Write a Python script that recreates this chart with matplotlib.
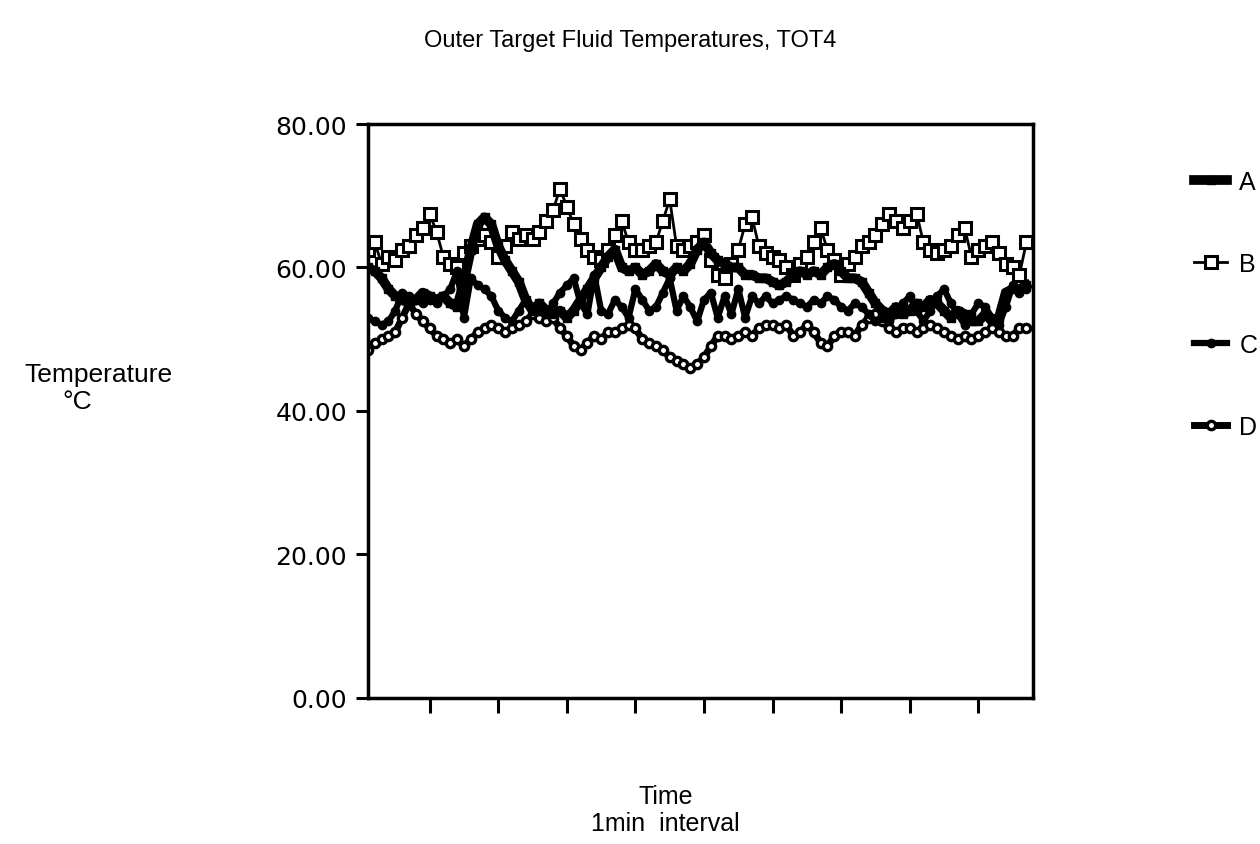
import numpy as np
import matplotlib
matplotlib.use('Agg')
import matplotlib.pyplot as plt

plt.rcParams['font.family'] = ['Liberation Sans', 'DejaVu Sans']

# leituras aproximadas (1 min de intervalo)
temp_a = [60.0, 59.5, 58.5, 57.0, 56.0, 55.5, 55.0, 55.5, 56.5, 56.0,
          55.5, 56.0, 55.0, 54.5, 58.0, 62.5, 66.0, 67.0, 66.0, 63.0,
          61.0, 59.5, 58.0, 55.5, 54.0, 55.0, 54.0, 53.5, 54.0, 53.0,
          54.0, 55.5, 57.0, 58.5, 60.0, 61.5, 62.5, 60.0, 59.5, 60.0,
          59.0, 59.5, 60.5, 59.5, 59.0, 60.0, 59.5, 60.5, 62.5, 63.5,
          62.0, 61.0, 60.5, 60.0, 60.0, 59.0, 59.0, 58.5, 58.5, 58.0,
          57.5, 58.0, 59.0, 59.5, 59.0, 59.5, 59.0, 60.0, 60.5, 59.5,
          58.5, 58.5, 58.0, 56.5, 55.0, 54.0, 53.5, 54.5, 53.5, 54.0,
          55.0, 54.5, 55.5, 55.0, 54.0, 53.0, 54.0, 53.5, 52.5, 52.5,
          53.5, 52.5, 53.0, 56.5, 57.0, 57.0, 57.5]

temp_b = [62.5, 63.5, 60.5, 61.5, 61.0, 62.5, 63.0, 64.5, 65.5, 67.5,
          65.0, 61.5, 60.5, 60.0, 62.0, 63.0, 64.0, 64.5, 63.5, 61.5,
          63.0, 65.0, 64.0, 64.5, 64.0, 65.0, 66.5, 68.0, 71.0, 68.5,
          66.0, 64.0, 62.5, 61.5, 61.0, 62.5, 64.5, 66.5, 63.5, 62.5,
          62.5, 63.0, 63.5, 66.5, 69.5, 63.0, 62.5, 63.0, 63.5, 64.5,
          61.0, 59.0, 58.5, 60.5, 62.5, 66.0, 67.0, 63.0, 62.0, 61.5,
          61.0, 60.0, 59.0, 60.5, 61.5, 63.5, 65.5, 62.5, 61.0, 59.0,
          60.5, 61.5, 63.0, 63.5, 64.5, 66.0, 67.5, 66.5, 65.5, 66.5,
          67.5, 63.5, 62.5, 62.0, 62.5, 63.0, 64.5, 65.5, 61.5, 62.5,
          63.0, 63.5, 62.0, 60.5, 60.0, 59.0, 63.5]

temp_c = [53.0, 52.5, 52.0, 52.5, 54.0, 56.5, 56.0, 55.5, 55.0, 55.5,
          55.0, 56.0, 57.0, 59.5, 53.0, 58.5, 57.5, 57.0, 56.0, 54.0,
          53.0, 52.5, 54.0, 55.5, 54.5, 54.0, 53.5, 55.0, 56.5, 57.5,
          58.5, 55.0, 53.5, 59.0, 54.0, 53.5, 55.5, 54.5, 53.0, 57.0,
          55.5, 54.0, 54.5, 56.5, 58.5, 54.0, 56.0, 54.5, 52.5, 55.5,
          56.5, 53.0, 56.0, 53.5, 57.0, 53.0, 56.0, 55.0, 56.0, 55.0,
          55.5, 56.0, 55.5, 55.0, 54.5, 55.5, 55.0, 56.0, 55.5, 54.5,
          54.0, 55.0, 54.5, 53.5, 52.5, 53.0, 52.5, 53.5, 55.0, 56.0,
          54.0, 52.5, 54.0, 56.0, 57.0, 55.0, 53.5, 52.0, 53.5, 55.0,
          54.5, 53.0, 52.0, 54.5, 57.5, 56.5, 57.0]

temp_d = [48.5, 49.5, 50.0, 50.5, 51.0, 53.0, 55.0, 53.5, 52.5, 51.5,
          50.5, 50.0, 49.5, 50.0, 49.0, 50.0, 51.0, 51.5, 52.0, 51.5,
          51.0, 51.5, 52.0, 52.5, 53.5, 53.0, 52.5, 53.0, 51.5, 50.5,
          49.0, 48.5, 49.5, 50.5, 50.0, 51.0, 51.0, 51.5, 52.0, 51.5,
          50.0, 49.5, 49.0, 48.5, 47.5, 47.0, 46.5, 46.0, 46.5, 47.5,
          49.0, 50.5, 50.5, 50.0, 50.5, 51.0, 50.5, 51.5, 52.0, 52.0,
          51.5, 52.0, 50.5, 51.0, 52.0, 51.0, 49.5, 49.0, 50.5, 51.0,
          51.0, 50.5, 52.0, 53.0, 53.5, 52.5, 51.5, 51.0, 51.5, 51.5,
          51.0, 51.5, 52.0, 51.5, 51.0, 50.5, 50.0, 50.5, 50.0, 50.5,
          51.0, 51.5, 51.0, 50.5, 50.5, 51.5, 51.5]

rotulos = ['A', 'B', 'C', 'D']
ticks_y = [0, 20, 40, 60, 80]

tempo = np.arange(len(temp_a))

fig = plt.figure(figsize=(12.6, 8.45), dpi=100)
ax = fig.add_axes([0.292, 0.173, 0.528, 0.679])

# ordem de desenho: B por baixo, depois D, C, A
lb, = ax.plot(tempo, temp_b, color='black', lw=2.0, marker='s', ms=8.5,
              mfc='white', mec='black', mew=2.2, label='B')
ld, = ax.plot(tempo, temp_d, color='black', lw=5.0, marker='o', ms=6,
              mfc='white', mec='black', mew=2.4, label='D')
lc, = ax.plot(tempo, temp_c, color='black', lw=4.5, marker='o', ms=6,
              mfc='black', mec='black', label='C')
la, = ax.plot(tempo, temp_a, color='black', lw=7.0, marker='s', ms=6,
              mfc='black', mec='black', label='A')

ax.set_xlim(0, 97)
ax.set_ylim(0, 80)
ax.set_yticks(ticks_y)
ax.set_yticklabels([f'{v:.2f}' for v in ticks_y], fontsize=18,
                   family=['DejaVu Sans'])
ax.set_xticks(np.arange(9, 97, 10))
ax.set_xticklabels([])
ax.tick_params(axis='y', direction='out', length=9, width=2.2, pad=6)
ax.tick_params(axis='x', direction='out', length=11, width=2.2)
for s in ax.spines.values():
    s.set_linewidth(2.5)

fig.text(0.5, 0.952, 'Outer Target Fluid Temperatures, TOT4',
         ha='center', va='center', fontsize=17)
fig.text(0.078, 0.556, 'Temperature', ha='center', va='center', fontsize=19)
fig.text(0.061, 0.524, '°C', ha='center', va='center', fontsize=19)
fig.text(0.528, 0.057, 'Time', ha='center', va='center', fontsize=18)
fig.text(0.528, 0.025, '1min  interval', ha='center', va='center', fontsize=18)

ax.legend([la, lb, lc, ld], rotulos, loc='upper left',
          bbox_to_anchor=(0.930, 0.824), bbox_transform=fig.transFigure,
          frameon=False, fontsize=18, handlelength=1.3, handletextpad=0.5,
          labelspacing=2.3, markerscale=1.0)

fig.savefig('out.png', dpi=100)
